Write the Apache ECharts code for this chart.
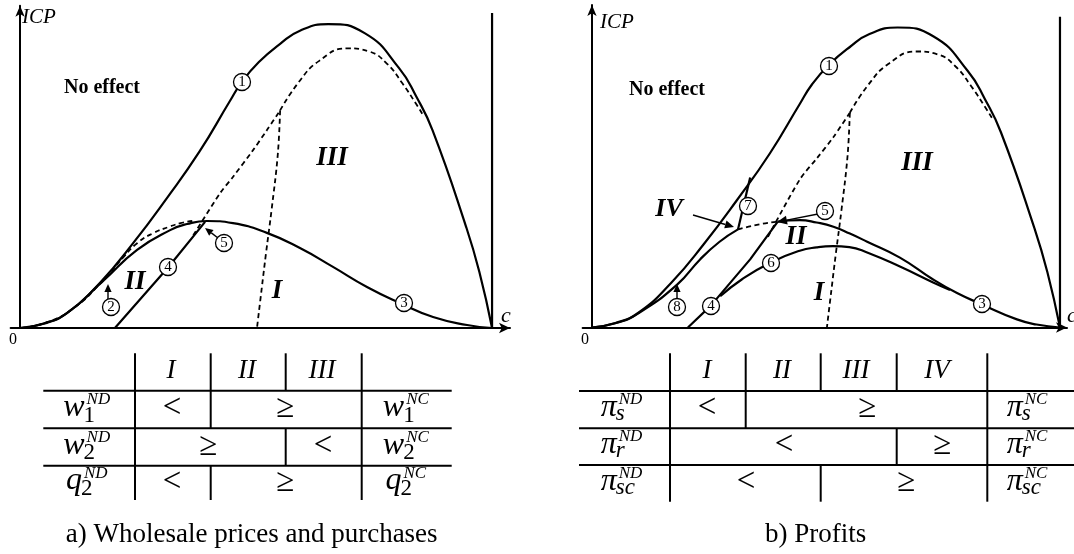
<!DOCTYPE html>
<html>
<head>
<meta charset="utf-8">
<script src="https://cdn.jsdelivr.net/npm/echarts@6/dist/echarts.min.js"></script>
<style>
  html, body { margin: 0; padding: 0; background: #fff; }
  #chart { width: 1074px; height: 554px; }
</style>
</head>
<body>
<div id="chart"></div>
<script>
// ---- curves in the (c, ICP) plane, pairs of [c, ICP] ----
// upper feasibility boundary (curve 1), common to both panels
const curve1 = [[0,0],[5,1.5],[10,5],[17,15],[24,28],[31,42.5],[38,58],[44.4,74.5],[47,81],[50.6,87.5],[55.1,93.5],[59.3,97.8],[65.3,100],[73,97],[80.3,85.5],[84,76],[87.4,65],[94.5,33.3],[97.3,18.5],[100,0]];
// dashed threshold arc and the dashed region I / III split, common to both panels
const arcUpper = [[55.1,71.6],[59.1,81],[63.3,87.8],[69.3,92],[73.9,91],[77.7,87],[81,80.5],[84,73.5],[85.6,69.5]];
const splitI = [[55.1,71.6],[54.6,57],[53.3,39],[52.1,24.5],[51.2,13],[50.2,0]];
// right boundary c = 1
const cBound = [[100,0],[100,103.6]];

// panel a) wholesale prices and purchases
const curveA3 = [[0,0],[5,1.4],[10,5],[17.6,15.5],[24.8,25.7],[31.8,32.2],[35.4,34.2],[39.6,35.2],[45.1,34.5],[52.3,31.3],[59.3,26.3],[66.3,20.1],[73.5,13.5],[80.5,8.2],[87.5,3.6],[94.7,1],[100,0]];
const curveA2 = [[0,0],[6,2],[12,7.3],[17,14.6],[19.1,18.2],[22,23.5],[24.8,27.9],[28.2,31.2],[31.8,33.4],[34,34.5],[36.5,35.2]];
const curveA4 = [[20.1,0],[31.4,20],[39.2,34.9]];
const riseA = [[36.7,30.5],[42.4,44.4],[45.1,49.7],[49.4,58.6],[52.3,65.1],[55.1,71.6]];

// panel b) profits
const curveB3left = [[0,0],[5,1.4],[10,4.8],[18.2,14.3],[23.1,22.7],[27.2,28.5],[31.2,32.7]];
const curveB3mid = [[31.2,32.7],[35.5,34.3],[39.7,35.3]];
const curveB3right = [[39.7,35.3],[44.4,35.8],[48,35],[51.6,33.6],[55.1,31.3],[58.8,28.6],[65.8,23.3],[72.9,16],[78,11.5],[83.3,7.7],[90.8,2.7],[95,1],[100,0]];
const curveB4 = [[20.5,0],[25.4,7.3],[33.8,22.7],[39.7,35.3]];
const curveB6 = [[27.4,10.4],[32,16],[38.2,21.7],[44.4,25.6],[48,26.7],[51.5,27.1],[55,26.8],[58.8,25],[65.8,20.3],[72.9,15],[76.5,12.5]];
const curveB7 = [[33.8,50],[31.2,32.7]];
const riseB = [[37.6,30.2],[44.4,49.3],[48.1,56.5],[51.6,63.5],[55.1,71.6]];

// ---- comparison tables ----
const regionsA = ['I', 'II', 'III'];
const rowsA = [['w', '1'], ['w', '2'], ['q', '2']];
const relA = [['<', '≥'], ['≥', '<'], ['<', '≥']];
const captionA = 'a) Wholesale prices and purchases';

const regionsB = ['I', 'II', 'III', 'IV'];
const rowsB = [['π', 's'], ['π', 'r'], ['π', 'sc']];
const relB = [['<', '≥'], ['<', '≥'], ['<', '≥']];
const captionB = 'b) Profits';

const SERIF = '"Liberation Serif", "Times New Roman", serif';

const chart = echarts.init(document.getElementById('chart'), null, { renderer: 'canvas' });

function solid(data, g, smooth) {
  return { type: 'line', xAxisIndex: g, yAxisIndex: g, data, symbol: 'none', silent: true,
           smooth: smooth === undefined ? 0.5 : smooth, z: 3,
           lineStyle: { color: '#000', width: 2.2 } };
}
function dashed(data, g, smooth) {
  return { type: 'line', xAxisIndex: g, yAxisIndex: g, data, symbol: 'none', silent: true,
           smooth: smooth === undefined ? 0.5 : smooth, z: 3,
           lineStyle: { color: '#000', width: 1.8, type: [5, 3.5] } };
}
function xAx(g, max) {
  return { gridIndex: g, type: 'value', min: -2, max,
           axisLine: { onZero: true, symbol: ['none', 'arrow'], symbolSize: [8, 11], lineStyle: { color: '#000', width: 2 } },
           axisTick: { show: false }, axisLabel: { show: false }, splitLine: { show: false } };
}
function yAx(g, max) {
  return { gridIndex: g, type: 'value', min: 0, max,
           axisLine: { onZero: true, symbol: ['none', 'arrow'], symbolSize: [7, 11], lineStyle: { color: '#000', width: 2 } },
           axisTick: { show: false }, axisLabel: { show: false }, splitLine: { show: false } };
}

// ---- overlay: text, circled markers, arrows, tables ----
const G = [];
function T(x, y, text, font, align) {
  G.push({ type: 'text', x, y, z: 100, silent: true,
           style: { text, font, fill: '#000', align: align || 'center', verticalAlign: 'middle',
                    textAlign: align || 'center', textVerticalAlign: 'middle' } });
}
function mark(x, y, n) {
  G.push({ type: 'group', x, y, z: 100, silent: true, children: [
    { type: 'circle', z: 100, shape: { cx: 0, cy: 0, r: 8.5 }, style: { fill: '#fff', stroke: '#000', lineWidth: 1.3 } },
    { type: 'text', z: 101, style: { text: String(n), font: '15px ' + SERIF, fill: '#000', align: 'center', verticalAlign: 'middle',
                               textAlign: 'center', textVerticalAlign: 'middle' } }
  ]});
}
function arrow(x1, y1, x2, y2, head) {
  const h = head || 8, w = h * 0.45;
  const a = Math.atan2(y2 - y1, x2 - x1), c = Math.cos(a), s = Math.sin(a);
  const bx = x2 - h * c, by = y2 - h * s;
  G.push({ type: 'line', z: 100, silent: true, shape: { x1, y1, x2: bx, y2: by }, style: { stroke: '#000', lineWidth: 1.4 } });
  G.push({ type: 'polygon', z: 100, silent: true,
           shape: { points: [[x2, y2], [bx - w * s, by + w * c], [bx + w * s, by - w * c]] }, style: { fill: '#000' } });
}
function seg(x1, y1, x2, y2, lw) {
  G.push({ type: 'line', z: 100, silent: true, shape: { x1, y1, x2, y2 }, style: { stroke: '#000', lineWidth: lw || 2 } });
}

const mctx = document.createElement('canvas').getContext('2d');
function tw(t, font) { mctx.font = font; return mctx.measureText(t).width; }
// italic symbol with subscript and superscript, centred on cx; offsets are baselines relative to the row centre
function sym(cx, rc, base, sub, sup, subItalic) {
  const fb = 'italic 32px ' + SERIF;
  const fs = (subItalic ? 'italic ' : '') + '23px ' + SERIF;
  const fp = 'italic 17px ' + SERIF;
  const wb = tw(base, fb), ws = tw(sub, fs), wp = tw(sup, fp);
  const subDx = -1, supDx = 2;
  const total = wb + Math.max(ws + subDx, wp + supDx);
  const x0 = cx - total / 2;
  const mid = (bl, size) => bl - 0.3375 * size;
  T(x0, mid(rc + 9, 32), base, fb, 'left');
  T(x0 + wb + subDx, mid(rc + (subItalic ? 12 : 14), 23), sub, fs, 'left');
  T(x0 + wb + supDx, mid(rc - 4, 17), sup, fp, 'left');
}

function table(cfg) {
  const [hTop, r1, r2, r3, bottom] = cfg.ys;
  cfg.hLines.forEach(y => seg(cfg.x0, y, cfg.x1, y));
  cfg.vHead.forEach(x => seg(x, hTop, x, r1));
  cfg.vRows[0].forEach(x => seg(x, r1, x, r2));
  cfg.vRows[1].forEach(x => seg(x, r2, x, r3));
  cfg.vRows[2].forEach(x => seg(x, r3, x, bottom));
  cfg.regions.forEach((t, i) => T(cfg.headX[i], 371, t, 'italic 27px ' + SERIF));
  const rc = [(r1 + r2) / 2, (r2 + r3) / 2, (r3 + bottom) / 2];
  cfg.rows.forEach((r, i) => {
    sym(cfg.labelX[0], rc[i], r[0], r[1], 'ND', cfg.subItalic);
    sym(cfg.labelX[1], rc[i], r[0], r[1], 'NC', cfg.subItalic);
    cfg.rel[i].forEach((t, j) => T(cfg.relX[i][j], rc[i] - 1, t, '33px ' + SERIF));
  });
  T(cfg.capX, 535, cfg.caption, '27px ' + SERIF);
}

// panel a annotations
T(22, 17.5, 'ICP', 'italic 21px ' + SERIF, 'left');
T(13, 340, '0', '16px ' + SERIF);
T(506, 316, 'c', 'italic 22px ' + SERIF);
T(102, 88, 'No effect', 'bold 20px ' + SERIF);
T(332, 158, 'III', 'bold italic 27px ' + SERIF);
T(135, 282, 'II', 'bold italic 27px ' + SERIF);
T(277, 291, 'I', 'bold italic 27px ' + SERIF);
arrow(108, 300, 108, 284, 8);
arrow(218, 238, 205, 228, 8);
mark(242, 82, 1);
mark(111, 307, 2);
mark(404, 303, 3);
mark(168, 267, 4);
mark(224, 243, 5);

// panel b annotations
T(600, 22, 'ICP', 'italic 21px ' + SERIF, 'left');
T(585, 340, '0', '16px ' + SERIF);
T(1072, 316, 'c', 'italic 22px ' + SERIF);
T(667, 90, 'No effect', 'bold 20px ' + SERIF);
T(917, 163, 'III', 'bold italic 27px ' + SERIF);
T(796, 237, 'II', 'bold italic 27px ' + SERIF);
T(819, 293, 'I', 'bold italic 27px ' + SERIF);
T(669, 209, 'IV', 'bold italic 26px ' + SERIF);
arrow(693, 215, 734, 227, 9);
arrow(677, 299, 677, 284, 8);
arrow(818, 214, 777, 222, 10);
mark(829, 66, 1);
mark(982, 304, 3);
mark(711, 306, 4);
mark(825, 211, 5);
mark(771, 263, 6);
mark(748, 206, 7);
mark(677, 307, 8);

table({
  x0: 43.3, x1: 451.7, ys: [353.3, 390.7, 428.3, 465.7, 500],
  hLines: [390.7, 428.3, 465.7],
  vHead: [135, 210.7, 285.7, 361.7],
  vRows: [[135, 210.7, 361.7], [135, 285.7, 361.7], [135, 210.7, 361.7]],
  regions: regionsA, headX: [171, 247, 322],
  rows: rowsA, labelX: [86.7, 405.8], subItalic: false,
  rel: relA, relX: [[172, 285], [208, 323], [172, 285]],
  caption: captionA, capX: 251.7
});
table({
  x0: 579, x1: 1074, ys: [353.3, 391, 428.3, 465, 501.7],
  hLines: [391, 428.3, 465],
  vHead: [670, 745.7, 820.7, 896.7, 987.3],
  vRows: [[670, 745.7, 987.3], [670, 896.7, 987.3], [670, 820.7, 987.3]],
  regions: regionsB, headX: [707, 782, 856, 937],
  rows: rowsB, labelX: [621.5, 1027], subItalic: true,
  rel: relB, relX: [[707, 867], [784, 942], [746, 906]],
  caption: captionB, capX: 815.7
});

chart.setOption({
  animation: false,
  backgroundColor: '#fff',
  grid: [
    { left: 10.6, top: 5.8, width: 499.4, height: 322.2 },
    { left: 582.6, top: 5, width: 484.4, height: 322.5 }
  ],
  xAxis: [xAx(0, 103.8), xAx(1, 101.5)],
  yAxis: [yAx(0, 106), yAx(1, 107.5)],
  series: [
    // panel a
    solid(curve1, 0),
    solid(curveA3, 0),
    solid(curveA4, 0, false),
    dashed(curveA2, 0),
    dashed(riseA, 0, 0.3),
    dashed(arcUpper, 0),
    dashed(splitI, 0, 0.4),
    solid(cBound, 0, false),
    // panel b
    solid(curve1, 1),
    solid(curveB3left, 1),
    dashed(curveB3mid, 1),
    solid(curveB3right, 1),
    solid(curveB4, 1, false),
    solid(curveB6, 1),
    solid(curveB7, 1, false),
    dashed(riseB, 1, 0.3),
    dashed(arcUpper, 1),
    dashed(splitI, 1, 0.4),
    solid(cBound, 1, false)
  ],
  graphic: { elements: G }
});
</script>
</body>
</html>
